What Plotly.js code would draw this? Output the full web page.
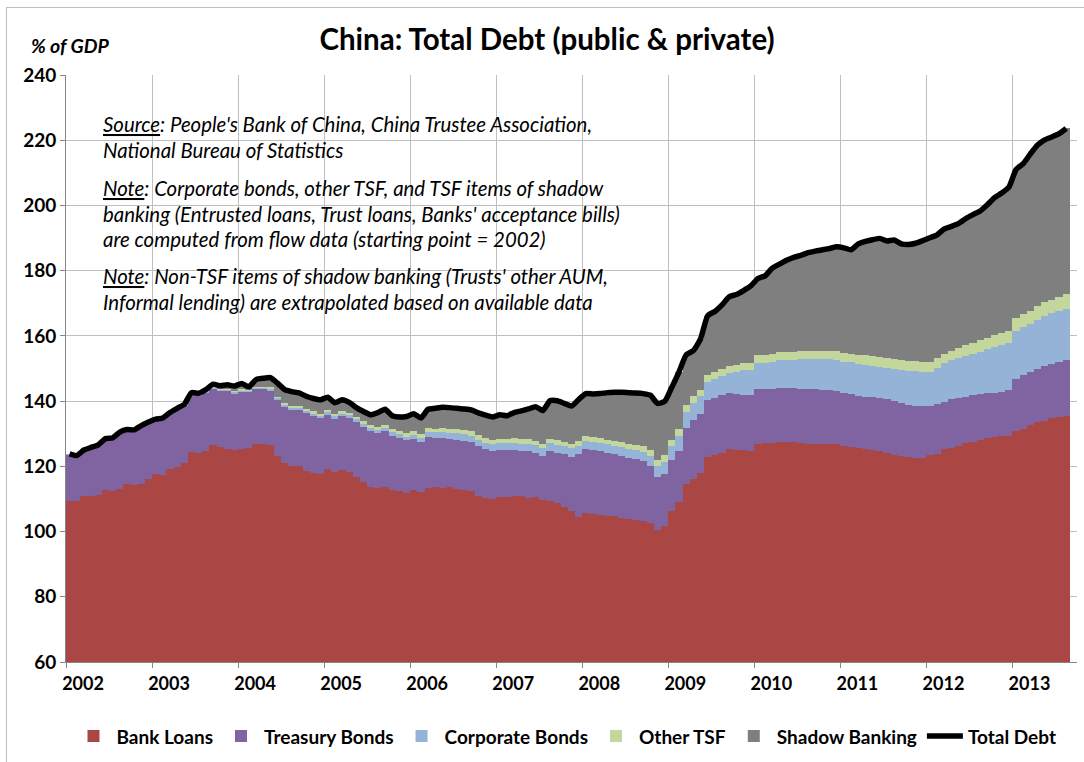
<!DOCTYPE html>
<html><head><meta charset="utf-8">
<script src="https://cdn.plot.ly/plotly-3.0.1.min.js"></script>
<style>
html,body{margin:0;padding:0;background:#fff;overflow:hidden;}
#chart{position:absolute;left:0;top:0;width:1084px;height:762px;}
#frame{position:absolute;left:6px;top:7px;width:1200px;height:900px;border:1px solid #BFBFBF;pointer-events:none;}
</style></head><body>
<div id="chart"></div><div id="frame"></div>
<script>
// Monthly data, Jan 2002 .. Aug 2013, % of GDP
const startYear = 2002;
const yearTicks = [2002,2003,2004,2005,2006,2007,2008,2009,2010,2011,2012,2013];
const seriesNames = ["Bank Loans","Treasury Bonds","Corporate Bonds","Other TSF","Shadow Banking","Total Debt"];

const bankLoans = [
109.3,109.3,110.8,110.8,111.2,112.8,112.3,112.9,114.5,114.2,114.5,116.0,
117.5,117.3,119.2,119.8,121.1,124.5,124.1,124.8,126.6,125.9,125.4,125.0,
125.2,125.7,127.0,126.7,126.4,123.1,121.1,120.1,120.1,118.6,117.9,117.8,
119.1,118.3,118.8,118.4,116.6,115.3,113.7,113.3,113.8,112.7,112.3,111.7,
112.7,112.2,113.5,113.8,113.5,113.8,113.2,112.8,112.5,111.0,110.3,110.0,
110.5,110.7,110.9,110.8,110.3,110.5,109.8,109.3,108.8,107.5,106.2,104.4,
105.7,105.4,105.1,104.9,104.9,104.2,103.9,103.6,103.2,102.6,100.4,101.7,
106.2,109.0,114.5,116.1,117.9,122.9,123.4,124.1,125.2,125.0,124.9,124.7,
127.0,127.2,127.3,127.5,127.5,127.4,127.1,126.9,126.9,126.9,126.8,126.7,
126.1,125.9,125.5,125.3,124.9,124.6,124.0,123.5,123.3,122.9,122.7,122.7,
123.4,123.9,125.2,125.5,126.2,127.2,127.6,128.2,128.7,129.0,129.4,129.4,
130.9,131.4,132.8,133.6,134.0,134.8,135.1,135.5];

const treasuryBonds = [
14.3,13.8,14.0,14.8,15.2,15.5,16.2,17.4,16.6,16.8,17.8,17.4,
16.8,17.3,16.9,17.6,17.5,17.5,17.4,17.6,17.2,17.2,17.6,17.3,
17.6,17.1,16.6,16.9,16.8,17.3,17.0,17.2,17.2,17.7,17.6,17.0,
16.7,16.2,16.5,16.4,16.9,16.7,17.0,16.9,16.9,16.7,16.4,16.3,
15.7,15.2,15.5,14.9,15.2,14.6,15.0,15.1,14.9,15.2,14.9,14.7,
14.5,14.2,14.1,13.9,14.4,13.7,13.3,15.4,15.4,16.2,16.8,19.4,
19.7,19.5,19.6,19.2,18.8,18.9,18.7,18.5,18.4,17.5,16.2,15.9,
15.7,15.7,17.2,18.0,18.1,17.5,17.5,17.8,17.2,17.2,17.1,17.2,
16.6,16.4,16.4,16.4,16.4,16.5,16.6,16.8,16.7,16.6,16.6,16.5,
16.3,16.4,16.1,16.1,16.3,16.4,16.5,16.5,16.0,16.0,15.9,15.8,
15.0,15.1,14.6,15.0,14.7,14.2,14.2,13.9,13.7,13.6,13.5,13.9,
16.0,16.6,16.2,16.4,16.8,16.6,16.9,17.0];

const corporateBonds = [
0.1,0.1,0.1,0.1,0.1,0.1,0.1,0.1,0.1,0.1,0.1,0.1,
0.1,0.1,0.2,0.2,0.2,0.2,0.3,0.3,0.3,0.3,0.4,0.4,
0.4,0.3,0.4,0.4,0.5,0.5,0.6,0.6,0.6,0.7,0.7,0.7,
0.8,0.8,0.8,0.9,0.9,0.9,1.0,1.0,1.0,1.0,1.1,1.1,
1.3,1.4,1.6,1.7,1.8,1.8,1.9,1.9,2.0,2.0,2.1,2.1,
2.2,2.2,2.2,2.3,2.3,2.3,2.4,2.4,2.4,2.4,2.5,2.5,
2.5,2.5,2.5,2.6,2.6,2.7,2.7,2.8,2.9,3.1,3.5,3.8,
4.2,4.5,5.0,5.3,5.5,5.6,5.9,5.9,6.1,6.6,7.5,7.6,
8.0,8.0,8.3,8.7,8.7,8.8,9.1,9.1,9.2,9.3,9.4,9.4,
9.6,9.6,9.7,9.6,9.6,9.6,9.7,9.9,10.1,10.3,10.5,10.5,
10.6,11.3,11.8,12.0,12.2,12.3,12.6,12.9,13.5,14.1,14.2,14.5,
14.7,14.6,14.6,14.8,15.4,15.5,15.6,15.7];

const otherTSF = [
0.1,0.1,0.1,0.1,0.1,0.1,0.1,0.1,0.1,0.1,0.1,0.1,
0.1,0.1,0.2,0.2,0.2,0.2,0.3,0.3,0.3,0.3,0.4,0.4,
0.4,0.3,0.4,0.4,0.5,0.5,0.6,0.6,0.6,0.7,0.7,0.7,
0.7,0.8,0.8,0.8,0.8,0.9,0.9,0.9,0.9,1.0,1.0,1.0,
1.1,1.1,1.2,1.2,1.2,1.2,1.2,1.3,1.3,1.3,1.3,1.3,
1.3,1.3,1.4,1.4,1.4,1.4,1.4,1.4,1.5,1.5,1.5,1.5,
1.5,1.5,1.5,1.5,1.5,1.6,1.6,1.7,1.7,1.8,1.9,2.0,
2.0,2.1,2.1,2.2,2.0,2.0,2.1,2.2,2.2,2.2,2.3,2.3,
2.4,2.4,2.4,2.4,2.4,2.5,2.7,2.7,2.7,2.7,2.7,2.7,
2.7,2.7,2.9,3.0,3.0,3.0,3.0,3.0,3.1,3.2,3.1,3.1,
3.0,2.9,2.9,3.0,3.2,3.4,3.5,3.6,3.6,3.7,3.7,3.6,
4.0,4.0,4.0,4.4,4.2,4.2,4.3,4.5];

const shadowBanking = [
0.0,0.0,0.0,0.0,0.0,0.0,0.0,0.0,0.0,0.0,0.0,0.0,
0.0,0.0,0.0,0.0,0.0,0.2,0.3,0.5,0.8,1.0,1.2,1.5,
1.8,1.0,2.2,2.6,3.0,4.1,4.2,4.4,4.0,3.8,3.9,4.2,
3.9,3.4,3.5,3.1,2.8,3.0,3.2,4.4,4.9,4.1,4.3,5.2,
5.3,4.9,5.7,6.2,6.4,6.6,6.5,6.5,6.6,6.9,7.1,7.0,
7.3,7.1,7.9,8.6,9.2,10.4,10.2,11.6,12.0,11.7,11.5,12.7,
12.9,13.3,13.6,14.4,14.9,15.3,15.7,15.9,16.1,16.8,17.3,16.5,
16.2,17.7,15.4,13.9,15.6,18.2,18.6,19.5,21.3,21.7,22.1,23.5,
23.6,24.4,26.4,27.0,28.2,28.9,29.2,30.0,30.5,30.9,31.3,32.0,
32.3,31.8,34.0,35.0,35.7,36.3,35.9,36.5,35.7,35.6,36.2,37.1,
38.1,37.8,38.3,38.1,38.2,38.9,39.3,39.7,40.7,42.0,43.0,44.2,
45.4,46.2,48.2,49.3,49.7,49.9,50.1,50.9];

const colors = ["#AA4643","#8064A2","#95B3D7","#C3D69B","#7F7F7F","#000000"];

const xMonths = bankLoans.map((_, i) => startYear + (i + 0.5) / 12);
const components = [bankLoans, treasuryBonds, corporateBonds, otherTSF, shadowBanking];
const totalDebt = bankLoans.map((_, i) => components.reduce((s, arr) => s + arr[i], 0));

const traces = components.map((arr, k) => ({
  type: "bar", name: seriesNames[k], x: xMonths, y: arr, width: 1/12,
  marker: {color: colors[k], line: {width: 0}}, hoverinfo: "skip"
}));
traces.push({
  type: "scatter", mode: "lines", name: seriesNames[5], x: xMonths, y: totalDebt,
  line: {color: "#000", width: 5.5, shape: "spline", smoothing: 0.5}, hoverinfo: "skip"
});

const FONT = "Lato, 'Open Sans', sans-serif";
const L = 66, R = 1077, T = 75, B = 668;
const px2py = y => (B - y) / (B - T);
const px2px = x => (x - L) / (R - L);

const noteLines = [
  ["<span style='text-decoration:underline'>Source</span>: People's Bank of China, China Trustee Association,", 125],
  ["National Bureau of Statistics", 151],
  ["<span style='text-decoration:underline'>Note</span>: Corporate bonds, other TSF, and TSF items of shadow", 189],
  ["banking (Entrusted loans, Trust loans, Banks' acceptance bills)", 215],
  ["are computed from flow data (starting point = 2002)", 241],
  ["<span style='text-decoration:underline'>Note</span>: Non-TSF items of shadow banking (Trusts' other AUM,", 278],
  ["Informal lending) are extrapolated based on available data", 304]
];
const annotations = noteLines.map(([t, y]) => ({
  xref: "paper", yref: "paper", x: px2px(101), y: px2py(y), xanchor: "left", yanchor: "middle",
  text: "<i>" + t + "</i>", showarrow: false, font: {family: FONT, size: 20.4, color: "#000"}
}));
annotations.push({
  xref: "paper", yref: "paper", x: px2px(29), y: px2py(45), xanchor: "left", yanchor: "middle",
  text: "<b><i>% of GDP</i></b>", showarrow: false, font: {family: FONT, size: 19.5, color: "#000"}
});

const layout = {
  width: 1084, height: 762,
  margin: {l: L, r: 1084 - R, t: T, b: 762 - B, pad: 0},
  paper_bgcolor: "#fff", plot_bgcolor: "#fff",
  font: {family: FONT, color: "#000"},
  title: {text: "<b>China: Total Debt (public & private)</b>", x: 547/1084, xanchor: "center",
          y: 1 - 40/762, yanchor: "middle", font: {family: FONT, size: 29.5, color: "#000"}},
  barmode: "stack", bargap: 0,
  showlegend: true,
  legend: {orientation: "h", x: px2px(566), xanchor: "center", y: px2py(743), yanchor: "middle",
           traceorder: "normal", font: {family: FONT, size: 19, color: "#000", weight: "bold"},
           itemwidth: 36, bgcolor: "rgba(0,0,0,0)"},
  xaxis: {range: [2002, 2013.75], tickvals: yearTicks, ticktext: yearTicks.map(String),
          showgrid: true, gridcolor: "#BFBFBF", gridwidth: 1, zeroline: false,
          showline: true, linecolor: "#868686", linewidth: 1,
          ticks: "outside", ticklen: 5, tickcolor: "#868686", ticklabelshift: 17,
          tickfont: {family: FONT, size: 18, color: "#000", weight: "bold"}, fixedrange: true},
  yaxis: {range: [60, 240], dtick: 20, tick0: 60,
          showgrid: true, gridcolor: "#BFBFBF", gridwidth: 1, zeroline: false,
          showline: true, linecolor: "#868686", linewidth: 1,
          ticks: "outside", ticklen: 5, tickcolor: "#868686",
          tickfont: {family: FONT, size: 19, color: "#000", weight: "bold"}, fixedrange: true},
  annotations: annotations
};

Plotly.newPlot("chart", traces, layout, {staticPlot: true, displayModeBar: false});
</script></body></html>
